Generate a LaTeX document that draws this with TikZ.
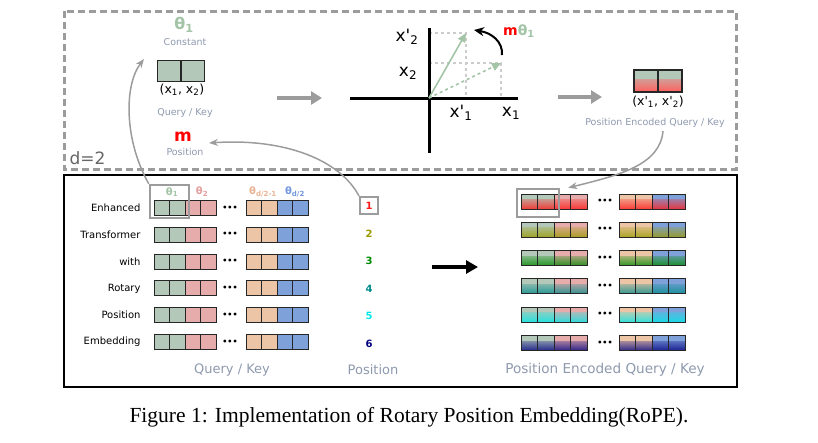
\documentclass[tikz,border=0pt]{standalone}
\usepackage{fontspec}
\setmainfont{DejaVu Sans}
\newfontfamily\capfont{Liberation Serif}
\usetikzlibrary{positioning,arrows.meta,calc}
\newcommand\pr{\textquotesingle}
\definecolor{cSage} {HTML}{B3C8B9}
\definecolor{cPink} {HTML}{E6ABAB}
\definecolor{cPeach}{HTML}{ECC5A7}
\definecolor{cBlue} {HTML}{7FA1DA}
\definecolor{cNote} {HTML}{8E99AE}
\definecolor{cGray} {HTML}{9C9C9C}
\definecolor{cGrid} {HTML}{CCCCCC}
\definecolor{tSage} {HTML}{A3C4A6}
\definecolor{tPink} {HTML}{E39E9E}
\definecolor{tPeach}{HTML}{E8B393}
\definecolor{tBlue} {HTML}{7399DD}
\definecolor{pRed}  {HTML}{FF1A1A}
\definecolor{pOlive}{HTML}{9A9A00}
\definecolor{pGreen}{HTML}{008A00}
\definecolor{pTeal} {HTML}{008B8B}
\definecolor{pCyan} {HTML}{00E8E8}
\definecolor{pNavy} {HTML}{00007F}
\tikzset{
  cell/.style={draw=black!85,line width=1pt,minimum width=15.5pt,
               minimum height=15pt,inner sep=0pt},
  ecell/.style={cell,minimum width=16.5pt},
  bcell/.style={cell,line width=1.5pt,minimum width=23.5pt,minimum height=21pt},
  grad/.style 2 args={fill=#1,path picture={
      \shade[top color=#1,bottom color=#2] ([yshift=2pt]path picture bounding box.west)
        rectangle (path picture bounding box.south east);}},
  note/.style={text=cNote,font=\fontsize{9.5}{11}\selectfont},
  lnote/.style={text=cNote,font=\fontsize{13}{15}\selectfont},
  axlbl/.style={font=\fontsize{17}{20}\selectfont},
  rowlbl/.style={anchor=east,font=\fontsize{10}{12}\selectfont},
  posn/.style={font=\bfseries\fontsize{10}{12}\selectfont},
  hdr/.style={font=\bfseries\fontsize{10}{12}\selectfont},
  dots/.style={font=\bfseries\fontsize{8}{10}\selectfont,inner sep=0pt},
  hl/.style={draw=cGray,line width=2.5pt,inner sep=0pt},
  gar/.style={-{Triangle[length=11pt,width=13pt]},line width=4.5pt,cGray},
  bar/.style={-{Triangle[length=12pt,width=13pt]},line width=4.5pt,black},
  car/.style={-{Stealth[length=9pt,width=7pt]},line width=1.5pt,cGray},
  vec/.style={-{Triangle[length=9pt,width=8pt]},line width=1.6pt,tSage},
  grid/.style={dashed,line width=1.2pt,cGrid},
}
\begin{document}
\begin{tikzpicture}[x=1pt,y=-1pt]
  \useasboundingbox (0,0) rectangle (818,442);
  \draw[cGray,line width=3pt,dash pattern=on 7pt off 4pt] (64,11) rectangle (736,169);
  \draw[black,line width=2pt] (64,175) rectangle (737,387);
  \node[anchor=west,text=black!60,font=\fontsize{17}{20}\selectfont] (dd) at (66,158) {d=2};
  % d=2 block
  \node[text=tSage,font=\bfseries\fontsize{16}{18}\selectfont] (th) at (184,25) {θ\textsubscript{1}};
  \node[note] (cst) at (185,42) {Constant};
  \node[bcell,fill=cSage] (qa) at (169,71) {};
  \node[bcell,fill=cSage] (qb) at (192.5,71) {};
  \node[font=\fontsize{12.5}{14}\selectfont] (xx) at (182,90) {(x\textsubscript{1}, x\textsubscript{2})};
  \node[note] (qk) at (185,113) {Query / Key};
  \node[text=red,font=\bfseries\fontsize{17}{20}\selectfont] (mm) at (183,137) {m};
  \node[note] (ps) at (185,152) {Position};
  \coordinate (g1) at (277,98);
  \coordinate (g2) at (322,98);
  \draw[gar] (g1) -- (g2);
  % rotation plane
  \coordinate (O)  at (429,98);
  \coordinate (P1) at (466,33);
  \coordinate (P2) at (501,63);
  \draw[grid] (O |- P1) -- (P1) -- (P1 |- O);
  \draw[grid] (O |- P2) -- (P2) -- (P2 |- O);
  \draw[line width=3pt] (350,98) -- (518,98);
  \draw[line width=3pt] (429,28) -- (429,153);
  \draw[vec] (O) -- (P1);
  \draw[vec,dashed] (O) -- (P2);
  \node[axlbl] (y2p) at (407,37) {x\pr\textsubscript{2}};
  \node[axlbl] (y2)  at (408,73) {x\textsubscript{2}};
  \node[axlbl] (y1p) at (461,113) {x\pr\textsubscript{1}};
  \node[axlbl] (y1)  at (511,113) {x\textsubscript{1}};
  \coordinate (r0) at (502,55);
  \coordinate (r1) at (474,30);
  \draw[-{Stealth[length=10pt,width=9pt]},line width=2pt] (r0) .. controls (503,42) and (492,33) .. (r1);
  \node[font=\bfseries\fontsize{14}{16}\selectfont] (mt) at (519,31)
       {\textcolor{red}{m}\textcolor{tSage}{θ\textsubscript{1}}};
  \coordinate (g3) at (558,97);
  \coordinate (g4) at (602,97);
  \draw[gar] (g3) -- (g4);
  \node[bcell,minimum width=24pt,minimum height=22pt,grad={cSage}{pRed!70!white}] (ea) at (646,81) {};
  \node[bcell,minimum width=24pt,minimum height=22pt,grad={cSage}{pRed!70!white}] (eb) at (670,81) {};
  \node[font=\fontsize{12.5}{14}\selectfont] (xxp) at (658,102) {(x\pr\textsubscript{1}, x\pr\textsubscript{2})};
  \node[note] (peqk) at (655,123) {Position Encoded Query / Key};
  % sequence of query / key vectors
  \node[hdr,text=tSage]  (h1) at (172,192) {θ\textsubscript{1}};
  \node[hdr,text=tPink]  (h2) at (202,192) {θ\textsubscript{2}};
  \node[hdr,text=tPeach] (h3) at (263,192) {θ\textsubscript{d/2-1}};
  \node[hdr,text=tBlue]  (h4) at (295,192) {θ\textsubscript{d/2}};
  \foreach \r/\w in {1/Enhanced,2/Transformer,3/with,4/Rotary,5/Position,6/Embedding}{
    \pgfmathsetmacro\yy{208+(\r-1)*26.8}
    \node[rowlbl] (lbl\r) at (144,\yy) {\w};
    \foreach \c/\col in {1/cSage,2/cSage,3/cPink,4/cPink}
      \node[cell,fill=\col] (q\r-\c) at ({154+15.5*(\c-0.5)},\yy) {};
    \foreach \c/\col in {5/cPeach,6/cPeach,7/cBlue,8/cBlue}
      \node[cell,fill=\col] (q\r-\c) at ({246+15.5*(\c-4.5)},\yy) {};
    \node[dots] (qd\r) at (230,\yy) {•••};
  }
  \foreach \r/\p in {1/pRed,2/pOlive,3/pGreen,4/pTeal,5/pCyan,6/pNavy}{
    \pgfmathsetmacro\yy{206+(\r-1)*27.6}
    \node[posn,text=\p] (n\r) at (369,\yy) {\r};
    \pgfmathsetmacro\ye{201.5+(\r-1)*28.3}
    \foreach \c/\col in {1/cSage,2/cSage,3/cPink,4/cPink}
      \node[ecell,grad={\col}{\p!80!\col}] (e\r-\c) at ({521+16.5*(\c-0.5)},\ye) {};
    \foreach \c/\col in {5/cPeach,6/cPeach,7/cBlue,8/cBlue}
      \node[ecell,grad={\col}{\p!80!\col}] (e\r-\c) at ({619+16.5*(\c-4.5)},\ye) {};
    \node[dots] (ed\r) at (605,\ye) {•••};
  }
  \node[hl,minimum width=39pt,minimum height=33pt] (hlL) at (169.5,201.5) {};
  \node[hl,line width=2pt,minimum width=18pt,minimum height=17pt] (nbox) at (369,205.5) {};
  \node[hl,minimum width=42pt,minimum height=28pt] (hlR) at (538,203) {};
  \node[lnote] (qkL) at (232,370) {Query / Key};
  \node[lnote] (psL) at (373,370) {Position};
  \node[lnote,font=\fontsize{13.6}{15}\selectfont] (peL) at (605,370) {Position Encoded Query / Key};
  \coordinate (b1) at (432,267);
  \coordinate (b2) at (478,267);
  \draw[bar] (b1) -- (b2);
  % links between the two parts
  \coordinate (cA) at (144,59);
  \coordinate (cB) at (209,143);
  \coordinate (cC) at (663,131);
  \draw[car] (hlL.north west) .. controls (124,140) and (124,85) .. (cA);
  \draw[car] (nbox.north west) .. controls (340,160) and (285,138) .. (cB);
  \draw[car] (cC) .. controls (660,165) and (620,175) .. ([xshift=8pt]hlR.north east);
  \node[font=\capfont\fontsize{21.5}{25}\selectfont] (cap) at (409,417)
       {Figure 1: Implementation of Rotary Position Embedding(RoPE).};
\end{tikzpicture}
\end{document}
